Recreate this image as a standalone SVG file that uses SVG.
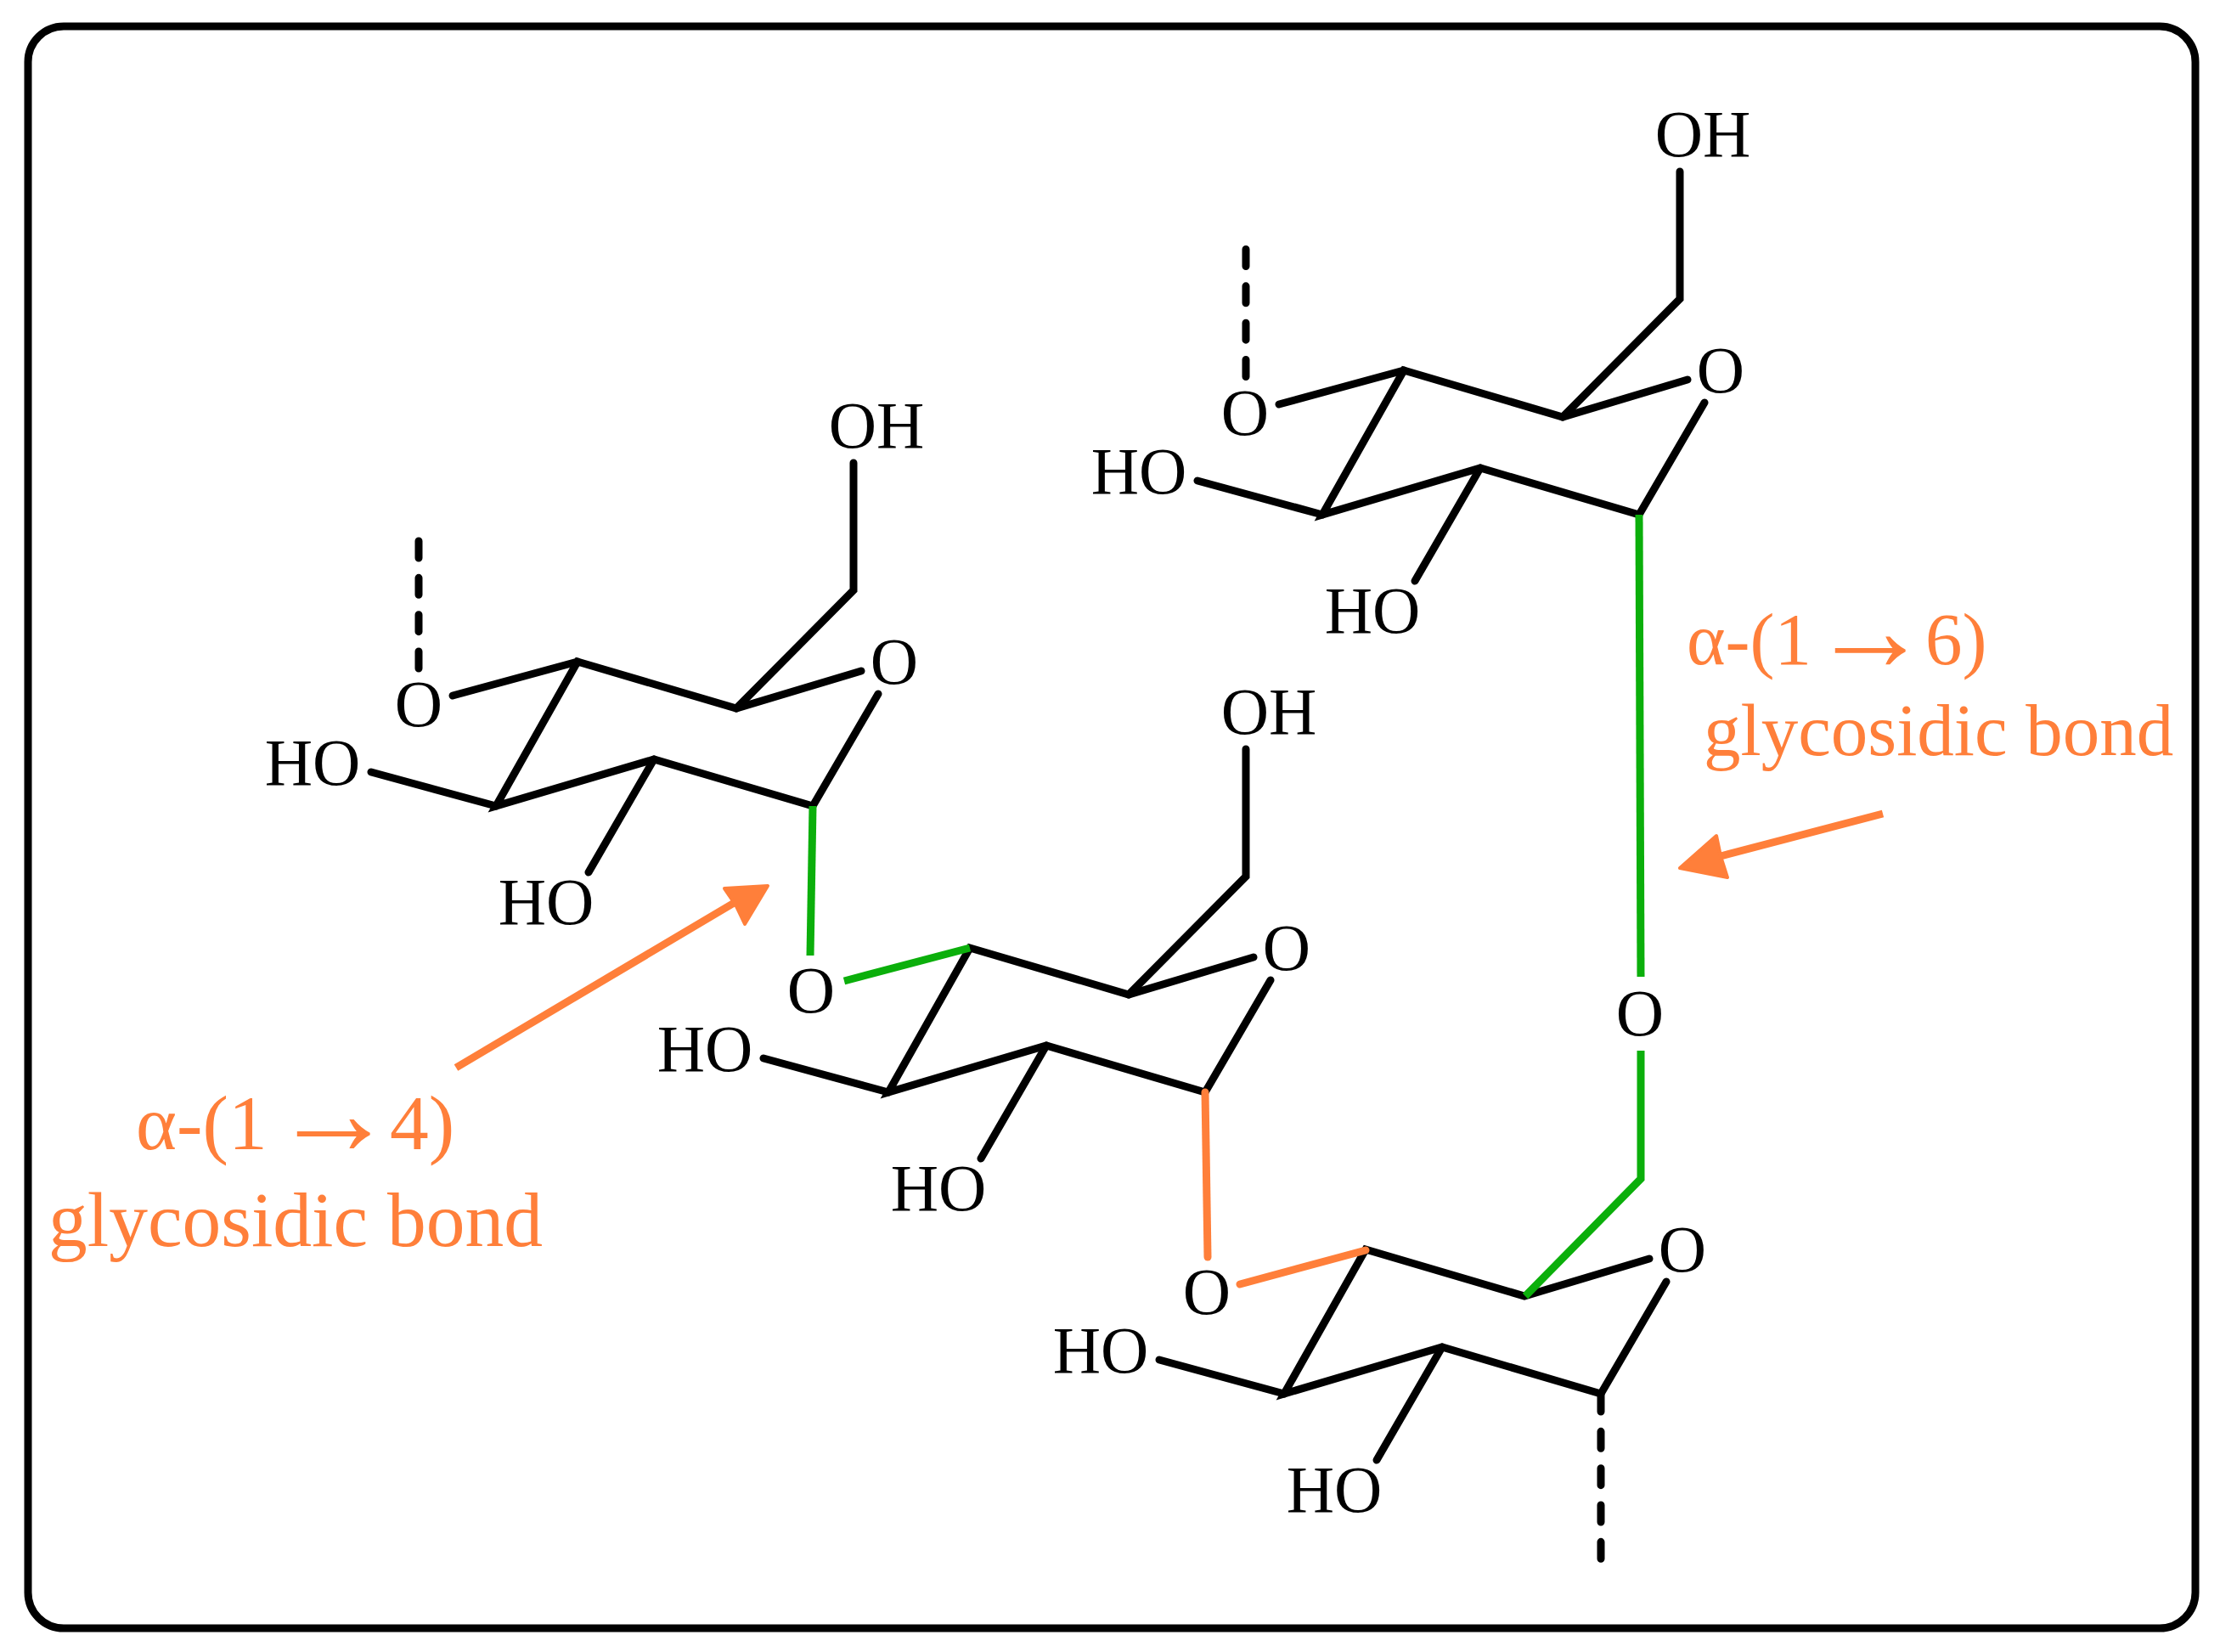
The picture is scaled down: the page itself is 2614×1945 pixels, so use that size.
<svg xmlns="http://www.w3.org/2000/svg" width="2614" height="1945" viewBox="0 0 2614 1945">
<defs>
<style>
.b{fill:none;stroke:#000;stroke-width:9;stroke-linecap:round;stroke-linejoin:miter}
.d{fill:none;stroke:#000;stroke-width:9;stroke-linecap:round;stroke-dasharray:20 23.33}
.g{fill:none;stroke:#0baf0b;stroke-width:9;stroke-linecap:butt;stroke-linejoin:miter}
.o{fill:none;stroke:#ff7f3a;stroke-width:9;stroke-linecap:round}
.a{fill:none;stroke:#ff7f3a;stroke-width:9}
.h{fill:#ff7f3a;stroke:#ff7f3a;stroke-width:4;stroke-linejoin:round}
text{font-family:"Liberation Serif","Times New Roman",serif}
.t{font-size:78px;fill:#000;text-anchor:middle}
.l{font-size:91.5px;fill:#ff7f3a}
.r{font-size:87px;fill:#ff7f3a}
</style>
<g id="ring">
<path class="b" d="M1014 790L867 834L680 779L584 949L770 894L957 949L1034 817"/>
<path class="b" d="M584 949L437 909"/>
<path class="b" d="M770 894L693 1027"/>
<text class="t" x="1053" y="805">O</text>
<text class="t" x="368" y="924">HO</text>
<text class="t" x="643" y="1088">HO</text>
<text class="t" x="493" y="855">O</text>
</g>
<g id="arm">
<path class="b" d="M867 834L1005 695V545"/>
<text class="t" x="1032" y="527">OH</text>
</g>
</defs>
<rect id="frame" x="33" y="31" width="2552" height="1886" rx="42" fill="#fff" stroke="#000" stroke-width="9"/>
<g id="unit-1"><use href="#ring"/><use href="#arm"/><path class="b" d="M533 819L680 779"/></g>
<g id="unit-2" transform="translate(462 337)"><use href="#ring"/><use href="#arm"/></g>
<g id="unit-3" transform="translate(928 692)"><use href="#ring"/></g>
<g id="unit-4" transform="translate(973 -343)"><use href="#ring"/><use href="#arm"/><path class="b" d="M533 819L680 779"/></g>
<g id="linker-o"><text class="t" x="1931" y="1219">O</text></g>
<g id="connectors">
<path class="d" d="M493 637V790"/>
<path class="d" d="M1467 293.500V447"/>
<path class="d" d="M1885 1642V1837"/>
<path class="g" d="M957 949L954 1125"/>
<path class="g" stroke-linecap="round" d="M994 1155L1142 1116"/>
<path class="o" d="M1419 1286L1422 1480"/>
<path class="o" d="M1460 1512L1608 1472"/>
<path class="g" d="M1930 606L1932 1150"/>
<path class="g" d="M1932 1237V1388L1796 1526"/>
</g>
<g id="label-14">
<path class="a" d="M537 1257L866 1062"/>
<path class="h" d="M904 1043L853 1046L866 1065L877 1088Z"/>
<text class="l" x="160" y="1353">α-(1<tspan x="320" y="1359" font-size="145">→</tspan><tspan x="459" y="1353">4)</tspan></text>
<text class="l" x="57" y="1467">glycosidic bond</text>
</g>
<g id="label-16">
<path class="a" d="M2217 958L2026 1008"/>
<path class="h" d="M1978 1022L2021 984L2026 1008L2034 1033Z"/>
<text class="r" x="1986" y="782">α-(1<tspan x="2132" y="789" font-size="140">→</tspan><tspan x="2267" y="782">6)</tspan></text>
<text class="r" x="2006" y="889">glycosidic bond</text>
</g>
</svg>
